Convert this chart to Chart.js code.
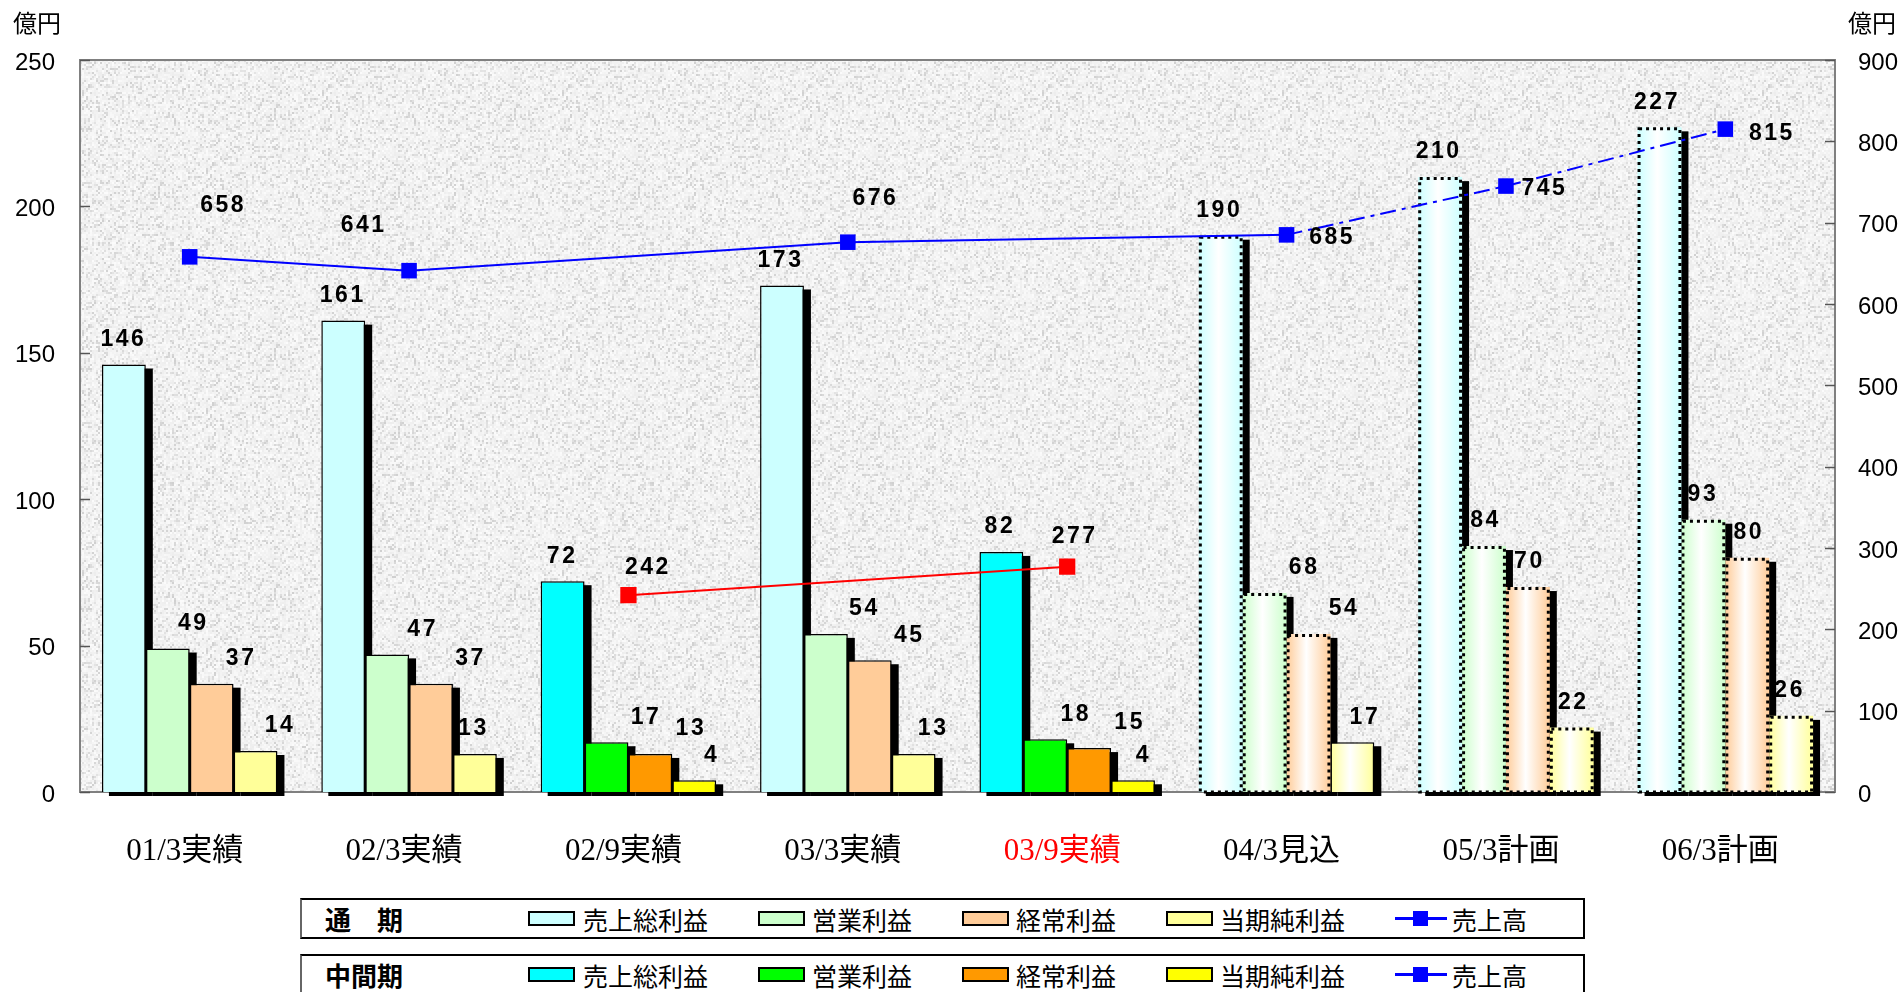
<!DOCTYPE html>
<html>
<head>
<meta charset="utf-8">
<script src="https://cdn.jsdelivr.net/npm/chart.js@4.4.1/dist/chart.umd.min.js"></script>
<style>
  html, body { margin: 0; padding: 0; background: #fff; overflow: hidden; }
  #wrap { position: relative; width: 1904px; height: 992px; overflow: hidden; }
  #chart { position: absolute; left: 0; top: 0; }
  .lg { position: absolute; left: 300px; width: 1281px; height: 37px; border: 2px solid #000;
        border-left-color: #666; background: #fff; font-family: "Noto Sans CJK JP", sans-serif; color: #000; }
  .lg .ttl { position: absolute; left: 23px; top: 1px; font-size: 26px; font-weight: bold; line-height: 36px; white-space: pre; }
  .lg .sw { position: absolute; top: 11px; width: 47px; height: 15px; box-sizing: border-box; border: 2px solid #000; }
  .lg .tx { position: absolute; top: 1px; font-size: 25px; line-height: 36px; white-space: nowrap; }
  .lg .ln { position: absolute; top: 17px; width: 52px; height: 3px; background: #0000FF; }
  .lg .mk { position: absolute; top: 11px; width: 15px; height: 15px; background: #0000FF; }
</style>
</head>
<body>
<div id="wrap">
  <canvas id="chart" width="1904" height="992"></canvas>
  <div class="lg" style="top:898px">
    <div class="ttl">通　期</div>
    <div class="sw" style="left:226px;background:#CCFFFF"></div><div class="tx" style="left:281px">売上総利益</div>
    <div class="sw" style="left:456px;background:#CCFFCC"></div><div class="tx" style="left:510px">営業利益</div>
    <div class="sw" style="left:660px;background:#FFCC99"></div><div class="tx" style="left:714px">経常利益</div>
    <div class="sw" style="left:864px;background:#FFFF99"></div><div class="tx" style="left:918px">当期純利益</div>
    <div class="ln" style="left:1093px"></div><div class="mk" style="left:1111px"></div><div class="tx" style="left:1150px">売上高</div>
  </div>
  <div class="lg" style="top:954px">
    <div class="ttl">中間期</div>
    <div class="sw" style="left:226px;background:#00FFFF"></div><div class="tx" style="left:281px">売上総利益</div>
    <div class="sw" style="left:456px;background:#00FF00"></div><div class="tx" style="left:510px">営業利益</div>
    <div class="sw" style="left:660px;background:#FF9900"></div><div class="tx" style="left:714px">経常利益</div>
    <div class="sw" style="left:864px;background:#FFFF00"></div><div class="tx" style="left:918px">当期純利益</div>
    <div class="ln" style="left:1093px"></div><div class="mk" style="left:1111px"></div><div class="tx" style="left:1150px">売上高</div>
  </div>
</div>
<script>
// ---- data (億円) ----
const categories = ['01/3実績', '02/3実績', '02/9実績', '03/3実績', '03/9実績', '04/3見込', '05/3計画', '06/3計画'];
const grossProfit     = [146, 161, 72, 173, 82, 190, 210, 227];
const operatingProfit = [49, 47, 17, 54, 18, 68, 84, 93];
const ordinaryProfit  = [37, 37, 13, 45, 15, 54, 70, 80];
const netIncome       = [14, 13, 4, 13, 4, 17, 22, 26];
const salesFullYear   = [658, 641, null, 676, null, 685, 745, 815];
const salesInterim    = [null, null, 242, null, 277, null, null, null];
const leftTicks  = [0, 50, 100, 150, 200, 250];
const rightTicks = [0, 100, 200, 300, 400, 500, 600, 700, 800, 900];
const interimPeriod = [false, false, true, false, true, false, false, false];
const forecastPeriod = [false, false, false, false, false, true, true, true];

// ---- styling ----
const fullColors    = ['#CCFFFF', '#CCFFCC', '#FFCC99', '#FFFF99'];
const interimColors = ['#00FFFF', '#00FF00', '#FF9900', '#FFFF00'];
// forecast bars drawn with a dotted outline (per series, category indexes)
const dottedOutline = [[5, 6, 7], [5, 6, 7], [5, 6, 7], [6, 7]];
// horizontal nudge of each bar's value label (per series, per category)
const barLabelDx = [
  [-2, -2, -2, -3, -3, -3, -3, -4],
  [24, 34, 38, 37, 29, 38, 0, -2],
  [28, 38, 39, 38, 39, 34, 0, 0],
  [23, -3, 16, 18, 9, 11, 0, -3]
];
const salesFullLabelPos = [[32, -51], [-47, -45], null, [26, -44], null, [44, 3], [37, 3], [45, 5]];
const salesInterimLabelPos = [null, null, [18, -28], null, [6, -30], null, null, null];

const barSeries = [
  { label: '売上総利益', data: grossProfit },
  { label: '営業利益', data: operatingProfit },
  { label: '経常利益', data: ordinaryProfit },
  { label: '当期純利益', data: netIncome }
];

// granite-like plot background
function makeTexture() {
  const c = document.createElement('canvas');
  c.width = 240; c.height = 240;
  const g = c.getContext('2d');
  const img = g.createImageData(240, 240);
  let seed = 12345;
  const rnd = () => { seed = (seed * 1103515245 + 12345) & 0x7fffffff; return seed / 0x7fffffff; };
  const cell = [];
  for (let j = 0; j < 120; j++) {
    cell[j] = [];
    for (let i = 0; i < 120; i++) {
      let v = 237 + Math.floor(rnd() * 13);
      const r = rnd();
      if (r < 0.2) v = 208 + Math.floor(rnd() * 22);
      else if (r < 0.27) v = 251;
      cell[j][i] = v;
    }
  }
  for (let y = 0; y < 240; y++) {
    for (let x = 0; x < 240; x++) {
      const v = cell[y >> 1][x >> 1];
      const k = (y * 240 + x) * 4;
      img.data[k] = v; img.data[k + 1] = v; img.data[k + 2] = v; img.data[k + 3] = 255;
    }
  }
  g.putImageData(img, 0, 0);
  return c;
}
const texture = makeTexture();

function isDotted(s, i) { return dottedOutline[s].includes(i); }
function baseColor(s, i) { return interimPeriod[i] ? interimColors[s] : fullColors[s]; }

const chartDecor = {
  id: 'chartDecor',
  beforeDraw(chart) {
    const { ctx, chartArea: a } = chart;
    ctx.save();
    ctx.fillStyle = ctx.createPattern(texture, 'repeat');
    ctx.fillRect(a.left, a.top, a.right - a.left, a.bottom - a.top);
    ctx.restore();
  },
  beforeDatasetsDraw(chart) {
    const { ctx, chartArea: a } = chart;
    ctx.save();
    // plot frame
    ctx.strokeStyle = '#808080';
    ctx.lineWidth = 2;
    ctx.strokeRect(a.left, a.top, a.right - a.left, a.bottom - a.top);
    // inward tick marks
    ctx.strokeStyle = '#555';
    ctx.lineWidth = 1.5;
    const yl = chart.scales.y, yr = chart.scales.y2;
    leftTicks.forEach(v => { const p = Math.round(yl.getPixelForValue(v)) + 0.5; ctx.beginPath(); ctx.moveTo(a.left, p); ctx.lineTo(a.left + 10, p); ctx.stroke(); });
    rightTicks.forEach(v => { const p = Math.round(yr.getPixelForValue(v)) + 0.5; ctx.beginPath(); ctx.moveTo(a.right - 10, p); ctx.lineTo(a.right, p); ctx.stroke(); });
    // drop shadows and gradient fills for bars
    ctx.fillStyle = '#000';
    for (let s = 0; s < barSeries.length; s++) {
      const meta = chart.getDatasetMeta(s);
      meta.data.forEach((el, i) => {
        const left = el.x - el.width / 2;
        ctx.fillRect(left + 7, el.y + 4, el.width, el.base - el.y);
        if (forecastPeriod[i]) {
          const gr = ctx.createLinearGradient(left, 0, left + el.width, 0);
          const c = baseColor(s, i);
          gr.addColorStop(0, c);
          gr.addColorStop(0.45, '#FFFFFF');
          gr.addColorStop(1, c);
          el.options.backgroundColor = gr;
        }
      });
    }
    ctx.restore();
  },
  afterDatasetDraw(chart, args) {
    const s = args.index;
    if (s >= barSeries.length) return;
    const { ctx } = chart;
    ctx.save();
    ctx.strokeStyle = '#000';
    ctx.lineWidth = 3;
    ctx.setLineDash([3, 4]);
    args.meta.data.forEach((el, i) => {
      if (!isDotted(s, i)) return;
      const left = el.x - el.width / 2;
      ctx.strokeRect(left + 1.5, el.y + 1.5, el.width - 3, el.base - el.y - 1.5);
    });
    ctx.restore();
  },
  afterDatasetsDraw(chart) {
    const { ctx } = chart;
    ctx.save();
    ctx.fillStyle = '#000';
    ctx.font = 'bold 23px "Liberation Sans", Arial, sans-serif';
    ctx.letterSpacing = '2.5px';
    ctx.textAlign = 'center';
    ctx.textBaseline = 'middle';
    for (let s = 0; s < barSeries.length; s++) {
      chart.getDatasetMeta(s).data.forEach((el, i) => {
        ctx.fillText(String(barSeries[s].data[i]), el.x + barLabelDx[s][i] + 1.5, el.y - 25);
      });
    }
    const lineLabels = (dsIndex, values, pos) => {
      chart.getDatasetMeta(dsIndex).data.forEach((el, i) => {
        if (values[i] == null || !pos[i]) return;
        ctx.fillText(String(values[i]), el.x + pos[i][0] + 1.5, el.y + pos[i][1]);
      });
    };
    lineLabels(4, salesFullYear, salesFullLabelPos);
    lineLabels(5, salesInterim, salesInterimLabelPos);
    ctx.restore();
  },
  afterDraw(chart) {
    const { ctx } = chart;
    ctx.save();
    ctx.fillStyle = '#000';
    ctx.font = '24px "Noto Sans CJK JP", sans-serif';
    ctx.textBaseline = 'middle';
    ctx.textAlign = 'left';
    ctx.fillText('億円', 13, 23);
    ctx.fillText('億円', 1848, 23);
    ctx.restore();
  }
};

const datasets = barSeries.map((b, s) => ({
  type: 'bar',
  label: b.label,
  data: b.data,
  yAxisID: 'y',
  order: 2,
  backgroundColor: (c) => baseColor(s, c.dataIndex),
  borderColor: '#000',
  borderWidth: (c) => isDotted(s, c.dataIndex) ? 0 : 1.5,
  borderSkipped: 'bottom',
  barPercentage: 1,
  categoryPercentage: 0.8
}));

datasets.push({
  type: 'line',
  label: '売上高(通期)',
  data: salesFullYear,
  yAxisID: 'y2',
  order: 0,
  borderColor: '#0000FF',
  borderWidth: 2,
  backgroundColor: '#0000FF',
  pointStyle: 'rect',
  pointRadius: 11,
  pointBorderWidth: 0,
  spanGaps: true,
  segment: { borderDash: (c) => c.p0DataIndex >= 5 ? [16, 6, 4, 6] : undefined }
});
datasets.push({
  type: 'line',
  label: '売上高(中間期)',
  data: salesInterim,
  yAxisID: 'y2',
  order: 0,
  borderColor: '#FF0000',
  borderWidth: 2,
  backgroundColor: '#FF0000',
  pointStyle: 'rect',
  pointRadius: 11.5,
  pointBorderWidth: 0,
  spanGaps: true
});

new Chart(document.getElementById('chart'), {
  data: { labels: categories, datasets },
  plugins: [chartDecor],
  options: {
    responsive: false,
    animation: false,
    events: [],
    layout: { padding: { top: 60, left: 0, right: 0, bottom: 0 } },
    plugins: { legend: { display: false }, tooltip: { enabled: false } },
    scales: {
      x: {
        grid: { display: false, drawTicks: false },
        border: { display: false },
        ticks: {
          font: { family: '"Liberation Serif", "Noto Sans CJK JP", serif', size: 31 },
          color: (c) => c.index === 4 ? '#FF0000' : '#000',
          padding: 41,
          labelOffset: -5
        },
        afterFit: (s) => { s.height = 200; }
      },
      y: {
        position: 'left',
        min: 0, max: 250,
        afterBuildTicks: (s) => { s.ticks = leftTicks.map(v => ({ value: v })); },
        grid: { display: false, drawTicks: false },
        border: { display: false },
        ticks: { font: { family: '"Liberation Sans", Arial, sans-serif', size: 24 }, color: '#000', padding: 25, labelOffset: 3 },
        afterFit: (s) => { s.width = 80; }
      },
      y2: {
        position: 'right',
        min: 0, max: 900,
        afterBuildTicks: (s) => { s.ticks = rightTicks.map(v => ({ value: v })); },
        grid: { display: false, drawTicks: false },
        border: { display: false },
        ticks: { font: { family: '"Liberation Sans", Arial, sans-serif', size: 24 }, color: '#000', padding: 23, labelOffset: 3 },
        afterFit: (s) => { s.width = 69; }
      }
    }
  }
});
</script>
</body>
</html>
